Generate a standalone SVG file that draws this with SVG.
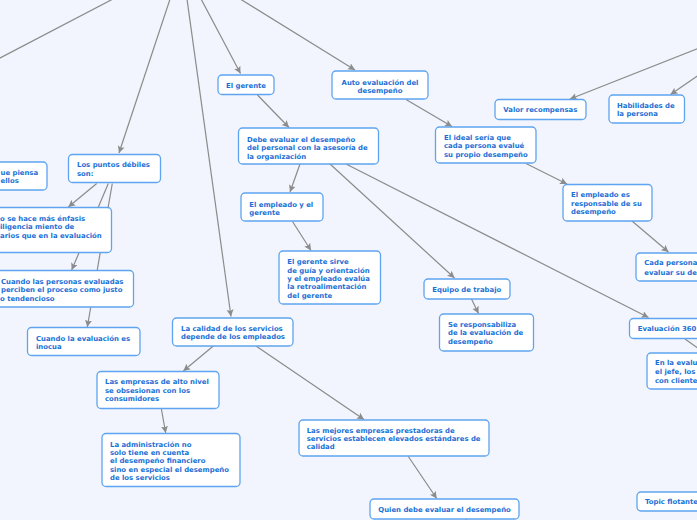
<svg xmlns="http://www.w3.org/2000/svg" width="697" height="520" viewBox="0 0 697 520">
<style>
.bg{fill:#f2f5fd}
.node rect{fill:#ffffff;stroke:#5ea4f0;stroke-width:1.3}
.node text{font-family:"DejaVu Sans",Verdana,sans-serif;font-weight:bold;font-size:6.9px;fill:#1b70d6}
.c{text-anchor:middle}
#connectors line{stroke:#8b8b8b;stroke-width:1.2;fill:none;marker-end:url(#arr)}
</style>
<defs>
<marker id="arr" markerUnits="userSpaceOnUse" markerWidth="8" markerHeight="8" refX="7" refY="3.5" orient="auto">
<path d="M0,0 L7,3.5 L0,7 L1.5,3.5 z" fill="#8b8b8b"/>
</marker>
</defs>
<rect class="bg" x="0" y="0" width="697" height="520"/>
<g id="connectors">
<line x1="182" y1="-37" x2="-30" y2="73.6"/>
<line x1="182" y1="-37" x2="119" y2="153"/>
<line x1="182" y1="-37" x2="231" y2="316.5"/>
<line x1="182" y1="-37" x2="240.5" y2="73.5"/>
<line x1="182" y1="-37" x2="355" y2="70"/>
<line x1="406" y1="99.5" x2="452" y2="126.5"/>
<line x1="257.5" y1="95" x2="289" y2="127.5"/>
<line x1="300" y1="164" x2="290" y2="192"/>
<line x1="330" y1="164" x2="454.5" y2="278"/>
<line x1="346" y1="164" x2="648.5" y2="317.5"/>
<line x1="292.5" y1="221.5" x2="311" y2="250.5"/>
<line x1="471.5" y1="299" x2="478.5" y2="313.5"/>
<line x1="526" y1="163.5" x2="567" y2="184"/>
<line x1="632" y1="221" x2="668.5" y2="252"/>
<line x1="685" y1="339" x2="715" y2="360"/>
<line x1="790" y1="12" x2="570" y2="99"/>
<line x1="790" y1="12" x2="670.5" y2="94.5"/>
<line x1="96.7" y1="183.5" x2="68.3" y2="207"/>
<line x1="108.3" y1="183.5" x2="71.7" y2="270"/>
<line x1="112.3" y1="183.5" x2="87.3" y2="327"/>
<line x1="213.3" y1="346" x2="183.3" y2="371"/>
<line x1="161.3" y1="408.5" x2="165.7" y2="433"/>
<line x1="256" y1="346" x2="364" y2="419.5"/>
<line x1="408" y1="456" x2="436.7" y2="498.5"/>
<line x1="465.7" y1="519" x2="470" y2="535"/>
</g>
<g id="n1" class="node"><rect x="-10" y="162" width="57" height="28" rx="4"/><text x="0.5" y="175.2">ue piensa</text><text x="0.5" y="183">ellos</text></g>
<g id="n2" class="node"><rect x="68.5" y="154.5" width="92" height="28" rx="4"/><text x="77" y="167.2">Los puntos débiles</text><text x="77" y="176.2">son:</text></g>
<g id="n3" class="node"><rect x="-10" y="207.5" width="121.5" height="45" rx="4"/><text x="0" y="220.8">o se hace más énfasis</text><text x="0" y="229.2">iligencia miento de</text><text x="0" y="237.8">arios que en la evaluación</text></g>
<g id="n4" class="node"><rect x="-10" y="270.5" width="143.5" height="36.5" rx="4"/><text x="1" y="283.8">Cuando las personas evaluadas</text><text x="1" y="292.2">perciben el proceso como justo</text><text x="0" y="300.8">o tendencioso</text></g>
<g id="n5" class="node"><rect x="27.5" y="327.5" width="112.5" height="28" rx="4"/><text x="36" y="340.8">Cuando la evaluación es</text><text x="36" y="348.8">inocua</text></g>
<g id="n6" class="node"><rect x="218" y="75" width="56" height="19.5" rx="4"/><text x="226" y="88">El gerente</text></g>
<g id="n7" class="node"><rect x="332" y="71" width="96" height="28" rx="4"/><text class="c" x="380" y="84.5">Auto evaluación del</text><text class="c" x="380" y="92.5">desempeño</text></g>
<g id="n8" class="node"><rect x="238.5" y="128" width="140" height="36" rx="4"/><text x="247" y="141.5">Debe evaluar el desempeño</text><text x="247" y="149.8">del personal con la asesoría de</text><text x="247" y="158.5">la organización</text></g>
<g id="n9" class="node"><rect x="241" y="193" width="82" height="28" rx="4"/><text x="249.3" y="206.5">El empleado y el</text><text x="249.3" y="214.5">gerente</text></g>
<g id="n10" class="node"><rect x="279" y="251" width="101.5" height="53" rx="4"/><text x="287.3" y="264.2">El gerente sirve</text><text x="287.3" y="272.5">de guía y orientación</text><text x="287.3" y="281.2">y el empleado evalúa</text><text x="287.3" y="289.2">la retroalimentación</text><text x="287.3" y="298">del gerente</text></g>
<g id="n11" class="node"><rect x="435.5" y="127" width="100.5" height="36" rx="4"/><text x="444" y="139.8">El ideal sería que</text><text x="444" y="148.2">cada persona evalué</text><text x="444" y="156.8">su propio desempeño</text></g>
<g id="n12" class="node"><rect x="563" y="184.5" width="89" height="36.5" rx="4"/><text x="571" y="196.5">El empleado es</text><text x="571" y="205.8">responsable de su</text><text x="571" y="213.8">desempeño</text></g>
<g id="n13" class="node"><rect x="495" y="99.5" width="91" height="20" rx="4"/><text x="503.3" y="112.2">Valor recompensas</text></g>
<g id="n14" class="node"><rect x="609" y="95" width="75.5" height="28" rx="4"/><text x="617" y="108.2">Habilidades de</text><text x="617" y="116.2">la persona</text></g>
<g id="n15" class="node"><rect x="424" y="279" width="86" height="20" rx="4"/><text x="432.3" y="291.5">Equipo de trabajo</text></g>
<g id="n16" class="node"><rect x="439.5" y="314" width="94" height="37" rx="4"/><text x="448" y="326.5">Se responsabiliza</text><text x="448" y="335.2">de la evaluación de</text><text x="448" y="343.8">desempeño</text></g>
<g id="n17" class="node"><rect x="636" y="253" width="80" height="28" rx="4"/><text x="644.3" y="265.2">Cada persona</text><text x="644.3" y="274.5">evaluar su de</text></g>
<g id="n18" class="node"><rect x="629.5" y="318.5" width="90" height="20" rx="4"/><text x="637.7" y="331.2">Evaluación 360</text></g>
<g id="n19" class="node"><rect x="647" y="353" width="80" height="36" rx="4"/><text x="655" y="365.2">En la evalu</text><text x="655" y="373.8">el jefe, los</text><text x="655" y="382.5">con cliente</text></g>
<g id="n20" class="node"><rect x="172.5" y="318" width="120.5" height="28" rx="4"/><text x="181" y="331.2">La calidad de los servicios</text><text x="181" y="339.2">depende de los empleados</text></g>
<g id="n21" class="node"><rect x="97" y="371.5" width="122" height="37" rx="4"/><text x="105" y="384.2">Las empresas de alto nivel</text><text x="105" y="392.8">se obsesionan con los</text><text x="105" y="401.2">consumidores</text></g>
<g id="n22" class="node"><rect x="102" y="433.5" width="138" height="53" rx="4"/><text x="110" y="446.5">La administración no</text><text x="110" y="455.2">solo tiene en cuenta</text><text x="110" y="463.2">el desempeño financiero</text><text x="110" y="471.8">sino en especial el desempeño</text><text x="110" y="480.2">de los servicios</text></g>
<g id="n23" class="node"><rect x="299" y="420" width="190" height="36" rx="4"/><text x="306.7" y="432.5">Las mejores empresas prestadoras de</text><text x="306.7" y="441.2">servicios establecen elevados estándares de</text><text x="306.7" y="449.2">calidad</text></g>
<g id="n24" class="node"><rect x="370" y="499" width="149" height="20" rx="4"/><text x="378.3" y="511.8">Quien debe evaluar el desempeño</text></g>
<g id="n25" class="node"><rect x="637" y="492" width="80" height="19" rx="4"/><text x="645" y="503.8">Topic flotante</text></g>
</svg>
